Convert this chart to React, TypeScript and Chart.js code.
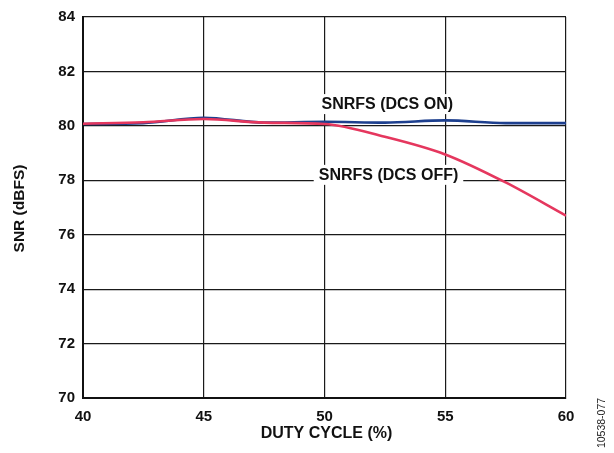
import React, { useEffect, useRef } from "react";
import { Chart, registerables } from "chart.js";

Chart.register(...registerables);

const dutyCycle = [40, 42.5, 45, 47.5, 50, 52.5, 55, 57.5, 60];
const snrDcsOn = [80.07, 80.1, 80.3, 80.12, 80.15, 80.12, 80.2, 80.1, 80.1];
const snrDcsOff = [80.08, 80.13, 80.25, 80.12, 80.07, 79.6, 78.95, 77.92, 76.7];
const xTicks = [40, 45, 50, 55, 60];
const yMin = 70;
const yMax = 84;
const yStep = 2;
const labelOn = "SNRFS (DCS ON)";
const labelOff = "SNRFS (DCS OFF)";
const xTitle = "DUTY CYCLE (%)";
const yTitle = "SNR (dBFS)";
const figureId = "10538-077";

const FONT = '"Liberation Sans", Arial, sans-serif';

const textPlugin = {
  id: "customText",
  beforeDatasetsDraw(chart: any) {
    const ctx = chart.ctx;
    const xs = chart.scales.x;
    const ys = chart.scales.y;
    ctx.save();
    ctx.font = `bold 16px ${FONT}`;
    ctx.textAlign = "center";
    ctx.textBaseline = "middle";
    const drawLabel = (text: string, xv: number, yv: number) => {
      const cx = xs.getPixelForValue(xv);
      const cy = ys.getPixelForValue(yv);
      const w = ctx.measureText(text).width;
      ctx.fillStyle = "#ffffff";
      ctx.fillRect(cx - w / 2 - 5, cy - 10, w + 10, 20);
      ctx.fillStyle = "#111111";
      ctx.fillText(text, cx, cy + 1);
    };
    drawLabel(labelOn, 52.6, 80.8);
    drawLabel(labelOff, 52.65, 78.2);
    ctx.restore();
  },
  afterDraw(chart: any) {
    const ctx = chart.ctx;
    const a = chart.chartArea;
    ctx.save();
    ctx.fillStyle = "#111111";
    ctx.textAlign = "center";
    ctx.textBaseline = "middle";
    ctx.font = `bold 16px ${FONT}`;
    ctx.fillText(xTitle, (a.left + a.right) / 2 + 2, 434);
    ctx.save();
    ctx.translate(20, (a.top + a.bottom) / 2 + 1);
    ctx.rotate(-Math.PI / 2);
    ctx.font = `bold 15.5px ${FONT}`;
    ctx.fillText(yTitle, 0, 0);
    ctx.restore();
    ctx.save();
    ctx.translate(602, 423);
    ctx.rotate(-Math.PI / 2);
    ctx.font = `10.5px ${FONT}`;
    ctx.fillStyle = "#222222";
    ctx.fillText(figureId, 0, 0);
    ctx.restore();
    ctx.restore();
  },
};

export default function App() {
  const ref = useRef<HTMLCanvasElement | null>(null);
  useEffect(() => {
    if (!ref.current) return;
    const chart = new Chart(ref.current, {
      type: "line",
      data: {
        datasets: [
          {
            label: labelOff,
            data: dutyCycle.map((x, i) => ({ x, y: snrDcsOff[i] })),
            borderColor: "#e5375e",
            borderWidth: 2.6,
            pointRadius: 0,
            cubicInterpolationMode: "monotone",
          },
          {
            label: labelOn,
            data: dutyCycle.map((x, i) => ({ x, y: snrDcsOn[i] })),
            borderColor: "#1d3f8e",
            borderWidth: 2.6,
            pointRadius: 0,
            cubicInterpolationMode: "monotone",
          },
        ],
      },
      options: {
        animation: false,
        responsive: false,
        layout: { padding: { top: 13, right: 48, bottom: 0, left: 0 } },
        plugins: { legend: { display: false }, tooltip: { enabled: false } },
        scales: {
          x: {
            type: "linear",
            min: 40,
            max: 60,
            afterBuildTicks: (s: any) => {
              s.ticks = xTicks.map((v) => ({ value: v }));
            },
            afterFit: (s: any) => {
              s.height = 55;
            },
            ticks: {
              padding: 10,
              color: "#111111",
              font: { family: FONT, size: 15, weight: "bold" },
            },
            grid: { color: "#1a1a1a", lineWidth: 1.2, drawTicks: false },
            border: { color: "#111111", width: 2 },
          },
          y: {
            type: "linear",
            min: yMin,
            max: yMax,
            ticks: {
              stepSize: yStep,
              padding: 8,
              color: "#111111",
              font: { family: FONT, size: 15, weight: "bold" },
            },
            afterFit: (s: any) => {
              s.width = 83;
            },
            grid: { color: "#1a1a1a", lineWidth: 1.2, drawTicks: false },
            border: { color: "#111111", width: 2 },
          },
        },
      },
      plugins: [textPlugin],
    } as any);
    return () => chart.destroy();
  }, []);
  return (
    <div style={{ position: "absolute", left: 0, top: 0, width: 614, height: 453, background: "#fff" }}>
      <canvas ref={ref} width={614} height={453} style={{ width: 614, height: 453 }} />
    </div>
  );
}
